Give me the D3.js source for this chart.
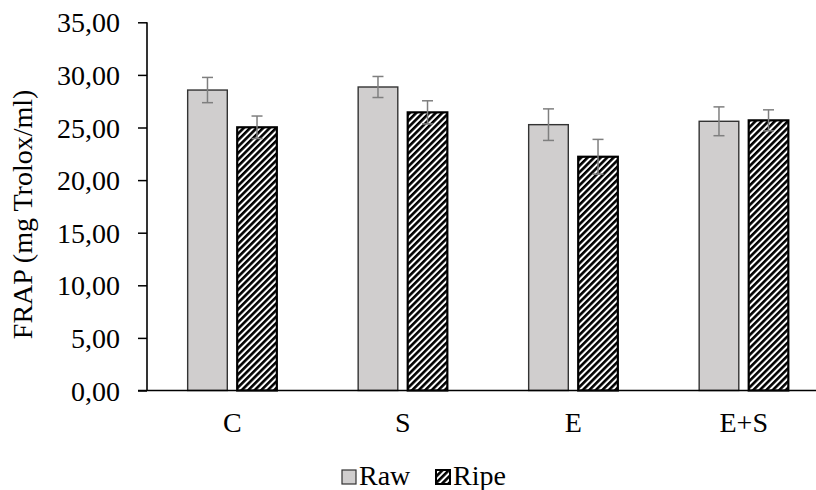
<!DOCTYPE html>
<html>
<head>
<meta charset="utf-8">
<script src="https://cdn.jsdelivr.net/npm/d3@7"></script>
<style>
  body { margin: 0; background: #fff; }
  svg { display: block; }
  text { font-family: "Liberation Serif", "Times New Roman", serif; fill: #000; }
</style>
</head>
<body>
<svg id="chart" width="816" height="490"></svg>
<script>
// data
var categories = ['C', 'S', 'E', 'E+S'];
var series = ['Raw', 'Ripe'];
var rawValues = [28.56, 28.85, 25.27, 25.59];
var rawErrors = [1.2, 1.0, 1.5, 1.37];
var ripeValues = [25.02, 26.44, 22.22, 25.68];
var ripeErrors = [1.07, 1.1, 1.65, 1.0];
var yTicks = [0, 5, 10, 15, 20, 25, 30, 35];

var svg = d3.select('#chart');

// hatch for the Ripe bars
var defs = svg.append('defs');
defs.append('pattern')
  .attr('id', 'hatch')
  .attr('patternUnits', 'userSpaceOnUse')
  .attr('width', 4.6)
  .attr('height', 4.6)
  .attr('patternTransform', 'rotate(45)')
  .call(function (p) {
    p.append('rect').attr('width', 4.6).attr('height', 4.6).attr('fill', '#fff');
    p.append('rect').attr('width', 2.6).attr('height', 4.6).attr('fill', '#000');
  });

var plotLeft = 147, plotRight = 829, plotTop = 22.3, plotBottom = 390.5;

var y = d3.scaleLinear().domain([0, 35]).range([plotBottom, plotTop]);

var x0 = d3.scaleBand().domain(categories).range([plotLeft, plotRight])
  .paddingInner(0.477).paddingOuter(0.2385);

var x1 = d3.scaleBand().domain(series).range([0, x0.bandwidth()])
  .paddingInner(0.2);

var rows = categories.map(function (c, i) {
  return [
    { cat: c, key: 'Raw', v: rawValues[i], e: rawErrors[i] },
    { cat: c, key: 'Ripe', v: ripeValues[i], e: ripeErrors[i] }
  ];
});

// y axis
var yAxis = d3.axisLeft(y).tickValues(yTicks)
  .tickSize(9).tickPadding(18)
  .tickFormat(function (d) { return d3.format('.2f')(d).replace('.', ','); });

var gy = svg.append('g').attr('transform', 'translate(' + plotLeft + ',0)').call(yAxis);
gy.select('.domain').remove();
gy.selectAll('.tick line').attr('stroke', '#000').attr('stroke-width', 1.5);
gy.selectAll('.tick text').style('font-size', '28px')
  .style('font-family', '"Liberation Serif", serif').attr('dy', '0.34em');

svg.append('line')
  .attr('x1', plotLeft).attr('x2', plotLeft)
  .attr('y1', y(35)).attr('y2', plotBottom)
  .attr('stroke', '#000').attr('stroke-width', 1.6);

// bars
var groups = svg.selectAll('.cat').data(rows).enter().append('g')
  .attr('class', 'cat')
  .attr('transform', function (d) { return 'translate(' + x0(d[0].cat) + ',0)'; });

groups.selectAll('rect').data(function (d) { return d; }).enter().append('rect')
  .attr('x', function (d) { return x1(d.key); })
  .attr('width', x1.bandwidth())
  .attr('y', function (d) { return y(d.v); })
  .attr('height', function (d) { return plotBottom - y(d.v); })
  .attr('fill', function (d) { return d.key == 'Raw' ? '#d0cece' : 'url(#hatch)'; })
  .attr('stroke', function (d) { return d.key == 'Raw' ? '#333' : '#000'; })
  .attr('stroke-width', function (d) { return d.key == 'Raw' ? 1.4 : 2.2; });

// error bars
var err = groups.selectAll('.err').data(function (d) { return d; }).enter().append('g')
  .attr('class', 'err')
  .attr('stroke', '#7f7f7f').attr('stroke-width', 1.5);

err.append('line')
  .attr('x1', function (d) { return x1(d.key) + x1.bandwidth() / 2; })
  .attr('x2', function (d) { return x1(d.key) + x1.bandwidth() / 2; })
  .attr('y1', function (d) { return y(d.v + d.e); })
  .attr('y2', function (d) { return y(d.v - d.e); });

[1, -1].forEach(function (s) {
  err.append('line')
    .attr('x1', function (d) { return x1(d.key) + x1.bandwidth() / 2 - 5.5; })
    .attr('x2', function (d) { return x1(d.key) + x1.bandwidth() / 2 + 5.5; })
    .attr('y1', function (d) { return y(d.v + s * d.e); })
    .attr('y2', function (d) { return y(d.v + s * d.e); });
});

// x axis
var xAxis = d3.axisBottom(x0).tickSize(0).tickPadding(22);
var gx = svg.append('g').attr('transform', 'translate(0,' + plotBottom + ')').call(xAxis);
gx.select('.domain').remove();
gx.selectAll('.tick text').style('font-size', '28px')
  .style('font-family', '"Liberation Serif", serif');

svg.append('line')
  .attr('x1', plotLeft - 9).attr('x2', 816)
  .attr('y1', plotBottom).attr('y2', plotBottom)
  .attr('stroke', '#000').attr('stroke-width', 1.6);

// y title
svg.append('text')
  .attr('transform', 'translate(32,' + ((plotTop + plotBottom) / 2 + 8) + ') rotate(-90)')
  .attr('text-anchor', 'middle')
  .style('font-size', '28px')
  .text('FRAP (mg Trolox/ml)');

// legend
var legend = [
  { key: 'Raw', x: 342, tx: 359 },
  { key: 'Ripe', x: 436, tx: 453 }
];
var lg = svg.selectAll('.leg').data(legend).enter().append('g').attr('class', 'leg');
lg.append('rect')
  .attr('x', function (d) { return d.x; }).attr('y', 470)
  .attr('width', 14).attr('height', 14)
  .attr('fill', function (d) { return d.key == 'Raw' ? '#d0cece' : 'url(#hatch)'; })
  .attr('stroke', function (d) { return d.key == 'Raw' ? '#333' : '#000'; })
  .attr('stroke-width', function (d) { return d.key == 'Raw' ? 1.2 : 2; });
lg.append('text')
  .attr('x', function (d) { return d.tx; }).attr('y', 485)
  .style('font-size', '28px')
  .text(function (d) { return d.key; });
</script>
</body>
</html>
